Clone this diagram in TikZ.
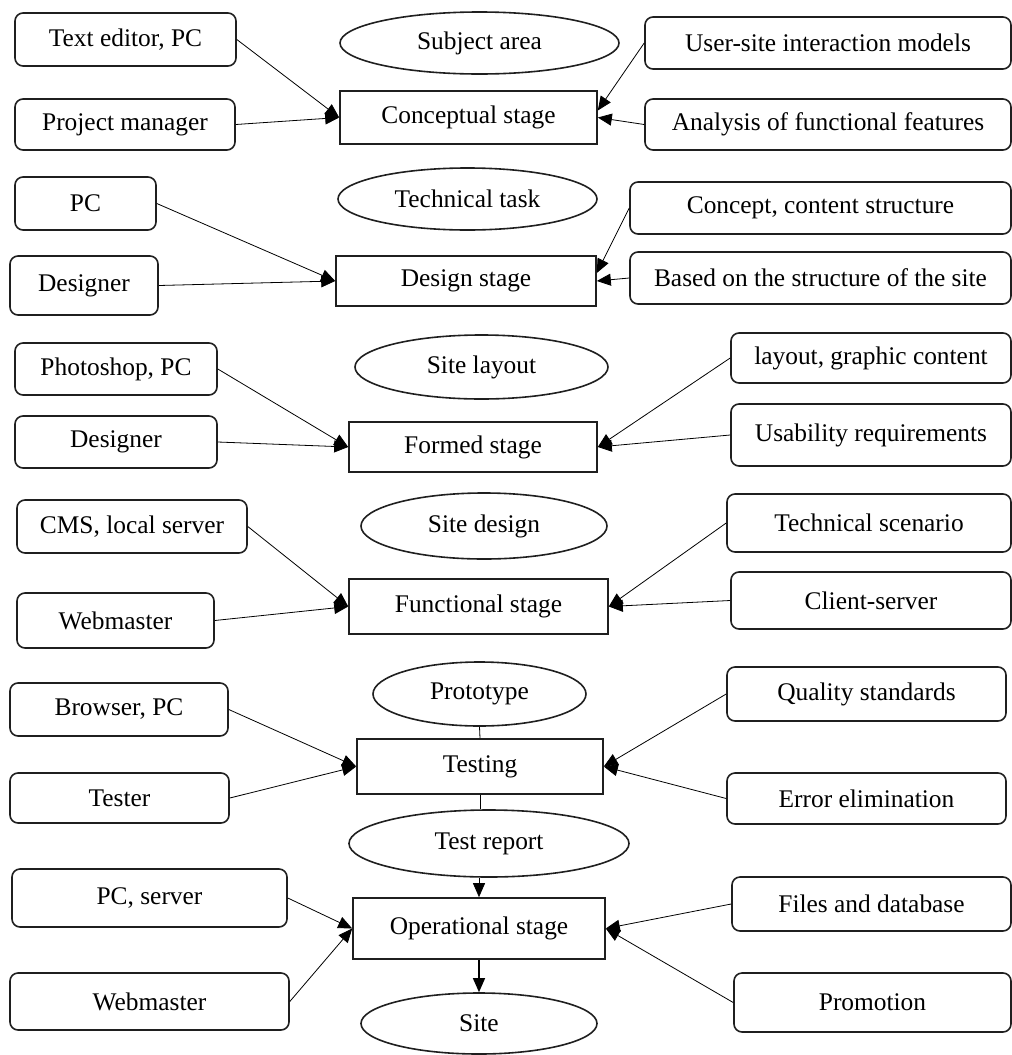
\documentclass[tikz,border=0pt]{standalone}
\usepackage{fontspec}
\setmainfont{Liberation Serif}
\usetikzlibrary{shapes.geometric,arrows.meta}
\begin{document}
\begin{tikzpicture}[x=0.5pt,y=-0.5pt,
  txt/.style={font=\fontsize{12.7}{14}\selectfont, inner sep=0pt, line width=0.8pt, draw=black!88},
  rbox/.style={txt, rounded corners=4pt},
  sbox/.style={txt},
  ell/.style={txt, ellipse},
  arr/.style={-{Triangle[length=7pt,width=6pt]}, line width=0.4pt},
  lin/.style={line width=0.4pt}]
\useasboundingbox (0,0) rectangle (1012,1055);
% Row 1
\node[rbox, minimum width=110.5pt, minimum height=26.5pt] (te) at (125.5,39.5) {Text editor, PC};
\node[rbox, minimum width=110pt, minimum height=25.5pt] (pm) at (125,124.5) {Project manager};
\node[ell, minimum width=139.5pt, minimum height=31pt] (sa) at (479.5,43) {Subject area};
\node[sbox, minimum width=128.5pt, minimum height=26.5pt] (cs) at (468.5,117.5) {Conceptual stage};
\node[rbox, minimum width=183pt, minimum height=26pt] (us) at (828,43) {User-site interaction models};
\node[rbox, minimum width=183pt, minimum height=25.5pt] (an) at (828,124.5) {Analysis of functional features};
% Row 2
\node[rbox, minimum width=70.5pt, minimum height=26.5pt] (pc) at (85.5,203.5) {PC};
\node[rbox, minimum width=74pt, minimum height=29.5pt] (de) at (84,285.5) {Designer};
\node[ell, minimum width=129.5pt, minimum height=31pt] (tt) at (467.5,199) {Technical task};
\node[sbox, minimum width=130pt, minimum height=25pt] (ds) at (466,281) {Design stage};
\node[rbox, minimum width=190.5pt, minimum height=26pt] (cc) at (820.5,208) {Concept, content structure};
\node[rbox, minimum width=190.5pt, minimum height=26pt] (bs) at (820.5,278) {Based on the structure of the site};
% Row 3
\node[rbox, minimum width=101pt, minimum height=26pt] (ph) at (116,369) {Photoshop, PC};
\node[rbox, minimum width=101pt, minimum height=26pt] (de2) at (116,442) {Designer};
\node[ell, minimum width=126.5pt, minimum height=32pt] (sl) at (481.5,367) {Site layout};
\node[sbox, minimum width=124pt, minimum height=25pt] (fs) at (473,447) {Formed stage};
\node[rbox, minimum width=140pt, minimum height=25pt] (lg) at (871,358) {layout, graphic content};
\node[rbox, minimum width=140pt, minimum height=31pt] (ur) at (871,435) {Usability requirements};
% Row 4
\node[rbox, minimum width=115pt, minimum height=26.5pt] (cms) at (132,526.5) {CMS, local server};
\node[rbox, minimum width=98.5pt, minimum height=27.5pt] (wm) at (115.5,620.5) {Webmaster};
\node[ell, minimum width=123pt, minimum height=33pt] (sd) at (484,526) {Site design};
\node[sbox, minimum width=129.5pt, minimum height=27.5pt] (fn) at (478.5,606.5) {Functional stage};
\node[rbox, minimum width=142pt, minimum height=29pt] (ts) at (869,523) {Technical scenario};
\node[rbox, minimum width=140pt, minimum height=28.5pt] (cl) at (871,600.5) {Client-server};
% Row 5
\node[rbox, minimum width=109pt, minimum height=26.5pt] (br) at (119,709.5) {Browser, PC};
\node[rbox, minimum width=109.5pt, minimum height=25pt] (tr) at (119.5,798) {Tester};
\node[ell, minimum width=106.5pt, minimum height=32pt] (pr) at (479.5,694) {Prototype};
\node[sbox, minimum width=123pt, minimum height=27.5pt] (tg) at (480,766.5) {Testing};
\node[ell, minimum width=140pt, minimum height=33.5pt] (tre) at (489,843.5) {Test report};
\node[rbox, minimum width=139.5pt, minimum height=27pt] (qs) at (866.5,694) {Quality standards};
\node[rbox, minimum width=139.5pt, minimum height=25.5pt] (ee) at (866.5,798.5) {Error elimination};
% Row 6
\node[rbox, minimum width=137.5pt, minimum height=29pt] (pcs) at (149.5,898) {PC, server};
\node[rbox, minimum width=139.5pt, minimum height=28.5pt] (wm2) at (149.5,1001.5) {Webmaster};
\node[sbox, minimum width=126pt, minimum height=30.5pt] (os) at (479,928.5) {Operational stage};
\node[ell, minimum width=118pt, minimum height=30.5pt] (site) at (479,1023.5) {Site};
\node[rbox, minimum width=139.5pt, minimum height=27pt] (fd) at (871.5,904) {Files and database};
\node[rbox, minimum width=138.5pt, minimum height=29.5pt] (pro) at (872.5,1002.5) {Promotion};
% Connectors
\draw[arr] (te.east) -- (cs.west);
\draw[arr] (pm.east) -- (cs.west);
\draw[arr] (us.west) -- ([yshift=3.5pt]cs.east);
\draw[arr] (an.west) -- (cs.east);
\draw[arr] (pc.east) -- (ds.west);
\draw[arr] (de.east) -- (ds.west);
\draw[arr] (cc.west) -- ([yshift=4pt]ds.east);
\draw[arr] (bs.west) -- (ds.east);
\draw[arr] (ph.east) -- (fs.west);
\draw[arr] (de2.east) -- (fs.west);
\draw[arr] (lg.west) -- (fs.east);
\draw[arr] (ur.west) -- (fs.east);
\draw[arr] (cms.east) -- (fn.west);
\draw[arr] (wm.east) -- (fn.west);
\draw[arr] (ts.west) -- (fn.east);
\draw[arr] (cl.west) -- (fn.east);
\draw[arr] (br.east) -- (tg.west);
\draw[arr] (tr.east) -- (tg.west);
\draw[arr] (qs.west) -- (tg.east);
\draw[arr] (ee.west) -- (tg.east);
\draw[lin] (pr.south) -- (tg.north);
\draw[lin] (tg.south) -- (tg.south |- tre.north);
\draw[arr] (os.north |- tre.south) -- (os.north);
\draw[arr] (pcs.east) -- (os.west);
\draw[arr] (wm2.east) -- (os.west);
\draw[arr] (fd.west) -- (os.east);
\draw[arr] (pro.west) -- (os.east);
\draw[arr, line width=0.6pt] (os.south) -- (site.north);
\end{tikzpicture}
\end{document}
